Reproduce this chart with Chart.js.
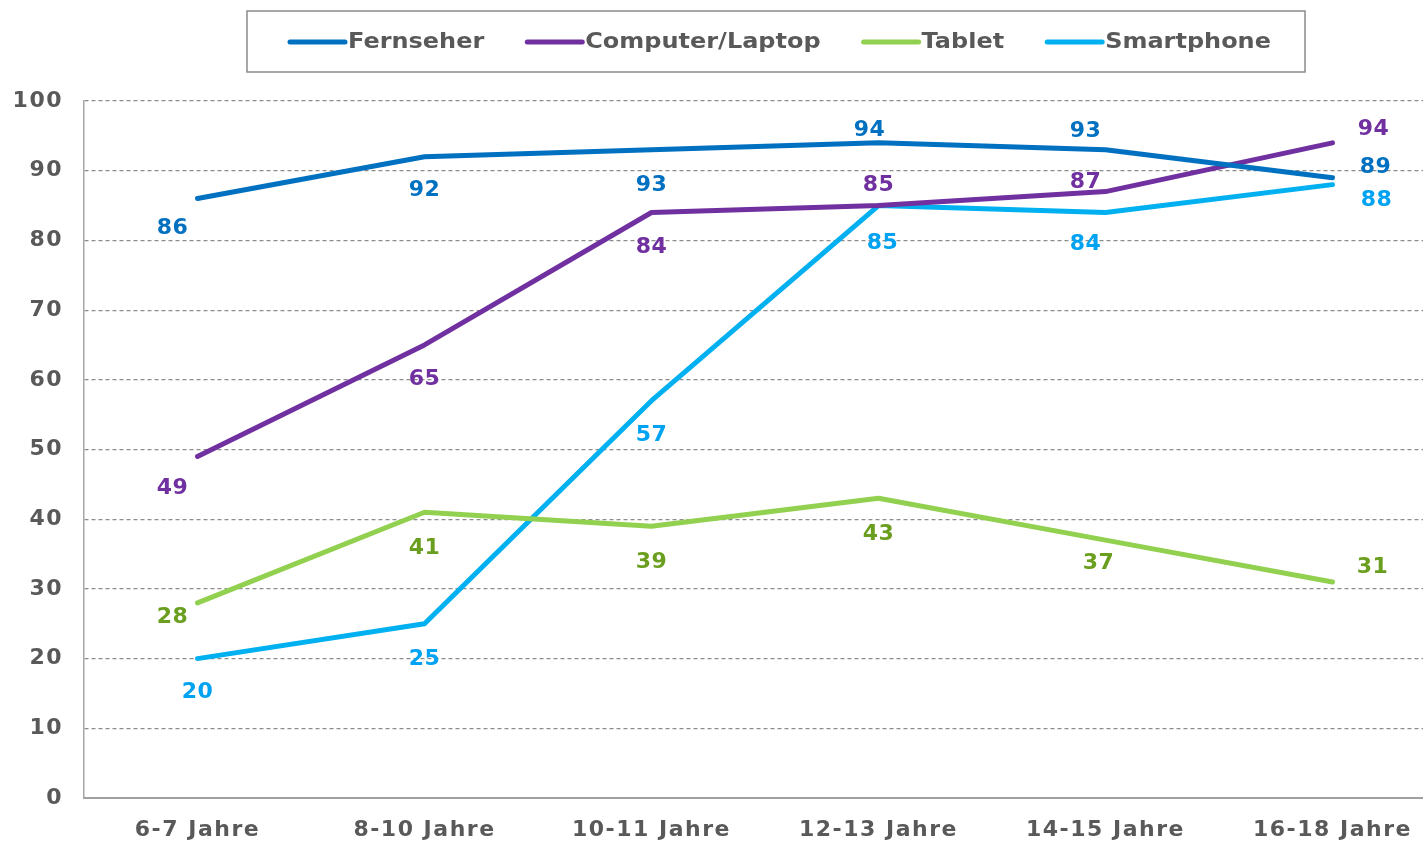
<!DOCTYPE html>
<html lang="de">
<head>
<meta charset="utf-8">
<title>Gerätenutzung nach Alter</title>
<script src="https://cdn.jsdelivr.net/npm/chart.js@4.4.1/dist/chart.umd.min.js"></script>
<style>
  html, body { margin: 0; padding: 0; background: #ffffff; overflow: hidden; }
  #wrap { width: 1423px; height: 841px; overflow: hidden; }
  canvas { display: block; }
</style>
</head>
<body>
<div id="wrap"><canvas id="chart" width="1446" height="841"></canvas></div>
<script>
// Altersgruppen (x-Achse)
const categories = ['6-7 Jahre', '8-10 Jahre', '10-11 Jahre', '12-13 Jahre', '14-15 Jahre', '16-18 Jahre'];

// Werte je Gerät
const fernseher  = [86, 92, 93, 94, 93, 89];
const computer   = [49, 65, 84, 85, 87, 94];
const tablet     = [28, 41, 39, 43, 37, 31];
const smartphone = [20, 25, 57, 85, 84, 88];

// Beschriftungen der y-Achse
const yTicks = [0, 10, 20, 30, 40, 50, 60, 70, 80, 90, 100];

const FONT = 'DejaVu Sans';
const GREY = '#595959';

// Label placement (pixel offsets from each point)
const labelOffsets = {
  'Fernseher':        [[-25, 30], [0, 34], [0, 35], [-9, -13], [-20, -19], [43, -10]],
  'Computer/Laptop':  [[-25, 32], [0, 34], [0, 35], [0, -20], [-20, -9], [41, -14]],
  'Tablet':           [[-25, 14], [0, 36], [0, 36], [0, 36], [-7, 23], [40, -15]],
  'Smartphone':       [[0, 34], [0, 36], [0, 35], [4, 38], [-20, 32], [44, 16]]
};

const series = [
  { label: 'Fernseher',       data: fernseher,  color: '#0070C0', text: '#0070C0' },
  { label: 'Computer/Laptop', data: computer,   color: '#7030A0', text: '#7030A0' },
  { label: 'Tablet',          data: tablet,     color: '#92D050', text: '#6A9E1E' },
  { label: 'Smartphone',      data: smartphone, color: '#00B0F0', text: '#00A2F2' }
];

// Slightly wider letter spacing for the axis labels
const axisSpacing = {
  id: 'axisSpacing',
  beforeDraw(chart) { chart.ctx.letterSpacing = '1.5px'; },
  afterDraw(chart) { chart.ctx.letterSpacing = '0px'; }
};

// Value labels next to each point
const valueLabels = {
  id: 'valueLabels',
  afterDatasetsDraw(chart) {
    const ctx = chart.ctx;
    ctx.save();
    ctx.letterSpacing = '0.5px';
    ctx.font = 'bold 22px "' + FONT + '"';
    ctx.textAlign = 'center';
    ctx.textBaseline = 'middle';
    chart.data.datasets.forEach((ds, di) => {
      const meta = chart.getDatasetMeta(di);
      const offs = labelOffsets[ds.label];
      ctx.fillStyle = series[di].text;
      meta.data.forEach((pt, i) => {
        const o = offs[i];
        ctx.fillText(String(ds.data[i]), pt.x + o[0], pt.y + o[1]);
      });
    });
    ctx.restore();
  }
};

// Framed legend above the plot
const boxLegend = {
  id: 'boxLegend',
  afterDraw(chart) {
    const ctx = chart.ctx;
    const left = 247, top = 11, right = 1305, bottom = 72;
    const cy = (top + bottom) / 2 + 0.5;
    const stretch = 1.09;
    ctx.save();
    ctx.letterSpacing = '0px';
    ctx.strokeStyle = '#8a8a8a';
    ctx.lineWidth = 1.5;
    ctx.strokeRect(left, top, right - left, bottom - top);
    ctx.font = 'bold 22px "' + FONT + '"';
    ctx.textBaseline = 'middle';
    ctx.textAlign = 'left';
    let x = left + 43;
    chart.data.datasets.forEach((ds) => {
      ctx.strokeStyle = ds.borderColor;
      ctx.lineWidth = 5;
      ctx.lineCap = 'round';
      ctx.beginPath();
      ctx.moveTo(x, cy);
      ctx.lineTo(x + 55, cy);
      ctx.stroke();
      ctx.fillStyle = GREY;
      ctx.save();
      ctx.translate(x + 58, cy);
      ctx.scale(stretch, 1);
      ctx.fillText(ds.label, 0, 0);
      ctx.restore();
      x += 58 + ctx.measureText(ds.label).width * stretch + 43;
    });
    ctx.restore();
  }
};

new Chart(document.getElementById('chart'), {
  type: 'line',
  data: {
    labels: categories,
    datasets: series.map(s => ({
      label: s.label,
      data: s.data,
      borderColor: s.color,
      backgroundColor: s.color,
      borderWidth: 5,
      borderCapStyle: 'round',
      borderJoinStyle: 'round',
      pointRadius: 0,
      pointHoverRadius: 0,
      tension: 0,
      fill: false,
      clip: false
    }))
  },
  options: {
    responsive: false,
    animation: false,
    events: [],
    layout: { padding: { top: 101, right: 0, bottom: 0, left: 0 } },
    plugins: {
      legend: { display: false },
      tooltip: { enabled: false },
      title: { display: false }
    },
    scales: {
      x: {
        offset: true,
        grid: { display: false, drawTicks: false },
        border: { display: true, color: '#a0a0a0', width: 2 },
        ticks: {
          color: GREY,
          font: { family: FONT, size: 22, weight: 'bold' },
          padding: 19,
          maxRotation: 0,
          autoSkip: false
        },
        afterFit(scale) { scale.height = 43; }
      },
      y: {
        min: 0,
        max: 100,
        afterBuildTicks(scale) { scale.ticks = yTicks.map(v => ({ value: v })); },
        grid: { color: '#8c8c8c', lineWidth: 1.2, drawTicks: false },
        border: { display: true, color: '#a6a6a6', width: 1.5, dash: [4, 3] },
        ticks: {
          color: GREY,
          font: { family: FONT, size: 22, weight: 'bold' },
          padding: 21
        },
        afterFit(scale) { scale.width = 84; }
      }
    }
  },
  plugins: [axisSpacing, valueLabels, boxLegend]
});
</script>
</body>
</html>
